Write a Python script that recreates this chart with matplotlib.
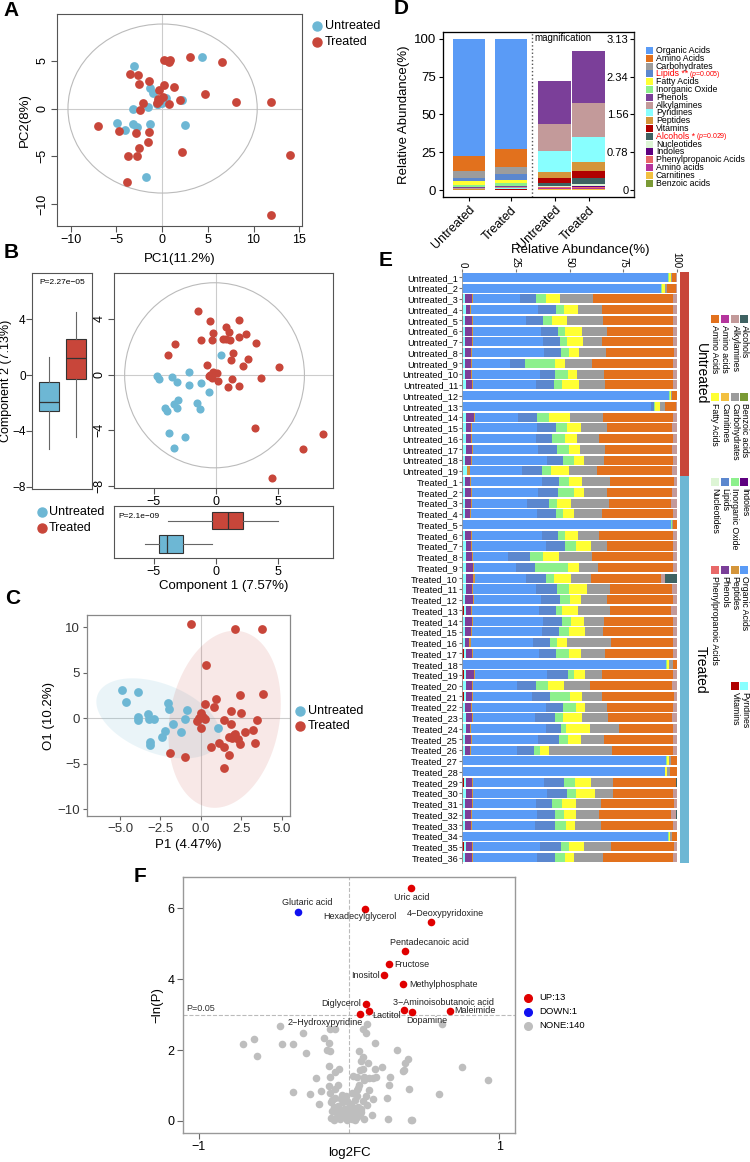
import numpy as np
import matplotlib
matplotlib.use('Agg')
import matplotlib.pyplot as plt
from matplotlib.patches import Ellipse, Polygon, Rectangle
from matplotlib.lines import Line2D

plt.rcParams['font.family'] = ['Liberation Sans', 'DejaVu Sans']
plt.rcParams['mathtext.fontset'] = 'custom'
plt.rcParams['mathtext.rm'] = 'Liberation Sans'
plt.rcParams['mathtext.it'] = 'Liberation Sans:italic'

#---------------------------- data ----------------------------
col_un = '#6DB7D4'
col_tr = '#C8463A'

# A: PCA scores
pca_un_x = [-3.1, 4.4, -1.3, -1.0, -1.6, -0.6, 0.4, 0.1, 2.2, 2.5, -3.2, -4.9, -4.1, -3.2, -2.8, -1.35, -1.8, 0.0, -0.4]
pca_un_y = [4.5, 5.4, 2.1, 1.6, 0.2, 0.45, 1.1, 0.8, 0.9, -1.75, -0.1, -1.5, -2.2, -1.6, -1.9, -1.6, -7.15, 0.6, 0.5]
pca_tr_x = [0.2, 0.6, 0.9, 0.7, 3.0, 6.5, -3.5, -2.6, -2.5, -1.4, 0.2, 1.3, -0.3, -2.1, -2.4, -0.3, -0.4, 0.7,
            2.0, 4.7, 8.1, 11.9, -7.0, -4.7, -2.9, -1.4, -1.5, -2.5, -3.7, -2.8, 2.2, 14.0, -3.8, 11.9, 0.1, -0.6]
pca_tr_y = [5.1, 5.0, 5.1, 4.9, 5.4, 4.9, 3.6, 3.5, 2.6, 2.9, 2.5, 2.3, 1.9, 0.6, -0.2, 0.8, 1.0, 0.5,
            0.9, 1.5, 0.7, 0.7, -1.8, -2.4, -2.6, -2.5, -3.5, -4.1, -5.0, -5.0, -4.6, -4.9, -7.7, -11.2, 1.2, 0.6]

# B: PLS-DA scores
pls_un_x = [-4.76, -4.55, -3.53, -3.13, -2.14, -2.19, -1.2, -0.53, 0.4, -3.02, -3.4, -4.14, -3.96, -3.16, -1.55, -1.28, -3.8, -2.49, -3.37]
pls_un_y = [-0.07, -0.29, -0.19, -0.5, 0.17, -0.77, -0.62, -1.22, 1.39, -1.82, -2.09, -2.37, -2.64, -2.4, -2.01, -2.47, -4.22, -4.46, -5.25]
pls_tr_x = [-1.44, -0.48, 1.82, 0.8, 1.02, -0.24, 2.38, -3.32, -1.18, -0.32, 0.53, 0.8, 1.12, 1.84, 3.24, -3.9, 1.36, 1.2,
            2.59, -0.75, 2.17, 5.08, -0.48, -0.27, 0.05, -0.53, -0.32, 0.16, 1.31, 3.61, 0.94, 1.87, 3.13, 6.98, 8.61, 4.49]
pls_tr_y = [4.56, 3.84, 3.93, 3.43, 3.05, 3.0, 2.9, 2.23, 2.52, 2.52, 2.57, 2.59, 2.52, 2.71, 2.25, 1.39, 1.58, 1.03,
            1.13, 0.7, 0.6, 0.58, 0.0, 0.17, 0.12, -0.12, -0.22, -0.48, -0.29, -0.24, -0.91, -0.82, -3.84, -5.35, -4.29, -7.43]
# box summaries: whisker low, q1, median, q3, whisker high
comp2_un = [-5.3, -2.55, -1.95, -0.5, 1.27]
comp2_tr = [-4.4, -0.25, 1.2, 2.6, 4.5]
comp1_un = [-5.7, -4.6, -3.95, -2.65, -0.36]
comp1_tr = [-3.9, -0.3, 1.0, 2.2, 5.0]

# C: OPLS-DA scores
opls_un_x = [-4.89, -3.88, -4.64, -2.04, -1.98, -0.87, -3.92, -3.92, -3.28, -3.22, -2.89, -1.01, -1.75, -1.26, -2.25, -2.39, -3.15, -3.15, 1.09]
opls_un_y = [3.11, 2.93, 1.83, 1.72, 1.06, 0.92, 0.11, -0.18, 0.44, -0.04, -0.07, -0.07, -0.62, -1.5, -1.39, -2.01, -2.6, -2.93, -1.03]
opls_tr_x = [-0.6, 2.12, 3.79, 0.29, 2.45, 3.86, 0.95, 0.27, 0.82, 1.88, 2.47, 0.0, -0.12, 0.12, -0.25, 0.23, -0.02, 1.46,
             1.84, 3.48, 2.72, 3.2, 2.12, 1.73, 1.94, 2.27, 2.43, 1.15, 1.44, 0.6, 3.34, 1.73, 1.46, -1.88, -1.01, 2.08]
opls_tr_y = [10.33, 9.82, 9.82, 5.82, 2.56, 2.67, 2.09, 1.54, 1.21, 0.84, 0.55, 0.55, 0.0, 0.11, -0.29, -0.11, -1.03, -0.18,
             -0.66, -0.18, -1.54, -1.32, -1.72, -2.09, -2.12, -2.31, -2.86, -2.67, -3.11, -3.15, -2.71, -4.07, -5.42, -3.81, -4.25, -1.83]
# confidence ellipses: centre and covariance-like shape
ell_un_center = [-2.63, 0.0]
ell_un_shape = [[14.75, -7.03], [-7.03, 19.36]]
ell_tr_center = [1.47, -0.1]
ell_tr_shape = [[12.1, 6.0], [6.0, 94.7]]

# D: mean class composition (%)
d_classes = ['Organic Acids', 'Amino Acids', 'Carbohydrates', 'Lipids', 'Fatty Acids', 'Inorganic Oxide', 'Phenols',
             'Alkylamines', 'Pyridines', 'Peptides', 'Vitamins', 'Alcohols', 'Nucleotides', 'Indoles',
             'Phenylpropanoic Acids', 'Amino acids', 'Carnitines', 'Benzoic acids']
d_untreated = [77.44, 10.2, 4.2, 2.4, 2.5, 1.0, 0.90, 0.56, 0.42, 0.138, 0.106, 0.047, 0.02, 0.015, 0.01, 0.03, 0.01, 0.005]
d_treated = [73.02, 11.7, 4.9, 3.4, 2.5, 1.6, 1.08, 0.69, 0.53, 0.175, 0.15, 0.12, 0.047, 0.02, 0.015, 0.03, 0.015, 0.005]
mag_top = 3.13
mag_ticks = ['0', '0.78', '1.56', '2.34', '3.13']

class_colors = {
    'Organic Acids': '#5A9BF6', 'Amino Acids': '#E2711D', 'Carbohydrates': '#9C9C9C', 'Lipids': '#5B87CE',
    'Fatty Acids': '#FFFF33', 'Inorganic Oxide': '#8CF08C', 'Phenols': '#7B3F99', 'Alkylamines': '#C39A9A',
    'Pyridines': '#88FFFF', 'Peptides': '#D4953A', 'Vitamins': '#B00000', 'Alcohols': '#3E6262',
    'Nucleotides': '#DDF5D5', 'Indoles': '#5E0080', 'Phenylpropanoic Acids': '#E86868', 'Amino acids': '#B5359D',
    'Carnitines': '#F2C040', 'Benzoic acids': '#7A9A35'}

# E: per-sample composition (%), Untreated_1..19 then Treated_1..36
samples = ['Untreated_%d' % i for i in range(1, 20)] + ['Treated_%d' % i for i in range(1, 37)]
e_vitamins = [0, 0, 0.4, 0.4, 0.4, 0.4, 0.4, 0.4, 0.4, 0.4, 0.4, 0, 0, 0.4, 0.4, 0.4, 0.4, 0.4, 0.5,
              0.4, 0.4, 0.4, 0.4, 0, 0.4, 0.4, 0.4, 0.5, 0.5, 0.4, 0.4, 0.8, 0.4, 0.4, 0.3, 0.6, 0,
              0.8, 0.4, 0.7, 0.4, 0.4, 0.4, 0.4, 0.4, 0, 0, 0.8, 0.4, 0.4, 0.4, 0.4, 0, 0.8, 0.4]
e_pyridines = [0, 0, 0.8, 1.2, 1.0, 0.8, 1.0, 0.8, 0.8, 1.0, 1.2, 0, 0.3, 1.2, 1.2, 1.2, 1.2, 0.8, 1.5,
               0.8, 0.8, 1.0, 0.8, 0, 0.8, 1.2, 1.2, 1.1, 1.1, 1.2, 0.8, 1.1, 0.8, 0.8, 0.8, 1.0, 0,
               1.1, 1.2, 1.0, 0.8, 1.2, 1.2, 1.0, 0.8, 0, 0, 1.1, 1.2, 0.8, 1.0, 0.8, 0, 1.1, 0.8]
e_phenols = [0, 0, 3.1, 2.0, 3.0, 3.1, 3.1, 2.8, 3.0, 2.6, 3.0, 0, 0, 3.7, 2.5, 2.6, 2.8, 2.8, 0.3,
             2.5, 2.8, 2.5, 2.3, 0, 2.8, 2.5, 2.8, 3.4, 3.6, 2.8, 3.6, 2.0, 3.1, 3.0, 2.2, 3.0, 0,
             3.4, 3.0, 3.0, 2.8, 2.8, 1.9, 2.5, 2.3, 0, 0, 2.6, 2.8, 3.3, 2.8, 2.8, 0, 2.6, 3.1]
e_peptides = [0, 0, 0.6, 0.5, 0.5, 0.6, 0.5, 0.5, 0.5, 0.5, 0.5, 0, 0, 0.6, 0.3, 0.3, 0.5, 0.3, 1.2,
              0.5, 0.5, 0.5, 0.5, 0, 0.3, 0.6, 0.8, 0.6, 0.8, 0.8, 0.5, 0.5, 0.5, 0.5, 0.6, 0.6, 0,
              0.8, 0.6, 0.5, 0.3, 0.5, 0.5, 0.5, 0.5, 0, 0, 0.6, 0.6, 0.5, 0.5, 0.3, 0, 0.6, 0.6]
e_organic = [96.1, 92.7, 22.2, 31.4, 24.7, 32.0, 32.5, 33.7, 17.4, 32.0, 29.2, 96.4, 87.8, 19.9, 30.3, 29.9, 30.6, 35.0, 24.4,
             32.8, 30.6, 26.0, 30.9, 97.4, 33.0, 34.2, 16.3, 19.3, 23.6, 29.1, 31.6, 31.3, 33.0, 32.3, 29.2, 30.8, 95.0,
             33.3, 20.2, 27.2, 34.5, 29.1, 35.0, 31.1, 21.5, 95.3, 94.7, 33.3, 34.4, 29.2, 30.2, 29.5, 95.8, 31.3, 30.0]
e_lipids = [0, 0, 7.5, 8.1, 8.1, 7.8, 7.9, 7.9, 7.3, 7.0, 8.6, 0, 1.4, 9.3, 8.9, 7.3, 8.9, 7.8, 9.3,
            7.9, 9.6, 10.3, 8.7, 0, 7.2, 8.9, 10.0, 9.2, 9.6, 10.0, 8.7, 7.9, 8.7, 8.1, 7.9, 7.9, 0,
            9.8, 9.0, 8.7, 8.1, 9.3, 7.0, 9.5, 8.1, 0, 0, 9.0, 9.3, 7.8, 8.6, 9.3, 0, 9.5, 8.4]
e_inorganic = [0.5, 0.3, 4.4, 4.0, 4.0, 3.3, 3.4, 3.4, 13.7, 5.8, 3.7, 0.5, 0.5, 5.3, 5.3, 6.2, 5.3, 4.8, 4.4,
               4.8, 7.3, 3.4, 3.6, 0.5, 3.6, 5.3, 6.2, 15.2, 3.7, 5.6, 4.5, 2.8, 4.2, 4.5, 3.4, 5.8, 0.4,
               2.8, 5.6, 9.0, 5.9, 3.6, 2.2, 4.2, 2.8, 0.2, 0.2, 5.4, 4.2, 4.7, 3.9, 5.1, 0.4, 4.0, 4.5]
e_fatty = [0.8, 1.4, 6.5, 6.5, 7.2, 7.8, 7.5, 5.1, 5.0, 4.4, 7.6, 0.6, 2.0, 9.8, 6.5, 5.6, 5.0, 4.7, 8.1,
           6.1, 4.5, 6.7, 5.0, 0.2, 5.9, 6.7, 7.3, 5.1, 7.9, 8.2, 5.1, 7.5, 5.9, 7.6, 4.7, 5.8, 0.8,
           5.3, 7.3, 5.8, 4.5, 8.9, 11.2, 6.2, 4.0, 0.8, 0.6, 7.5, 9.0, 6.2, 5.8, 4.2, 0.7, 7.0, 4.4]
e_carbs = [0.3, 1.2, 15.6, 11.2, 16.6, 11.7, 8.9, 12.3, 12.3, 12.6, 12.4, 0.5, 2.6, 15.6, 12.1, 10.1, 11.7, 9.3, 12.9,
           13.2, 10.9, 17.7, 12.8, 0.2, 10.0, 7.6, 15.4, 9.0, 9.2, 10.7, 12.3, 14.9, 9.5, 8.6, 20.2, 11.2, 2.2,
           7.8, 12.4, 9.3, 10.1, 12.1, 13.8, 10.6, 29.4, 1.2, 1.6, 10.3, 8.2, 11.8, 10.9, 12.1, 0.8, 12.4, 13.5]
e_amino = [2.1, 4.0, 37.0, 32.8, 32.8, 30.9, 33.0, 31.6, 38.1, 32.2, 31.7, 2.0, 5.1, 32.7, 30.3, 34.7, 31.4, 32.5, 35.2,
           29.5, 30.3, 28.9, 33.3, 1.9, 34.2, 30.6, 37.8, 34.7, 32.7, 29.0, 30.8, 28.6, 32.3, 32.3, 29.1, 31.6, 1.6,
           33.0, 38.3, 33.4, 30.9, 30.0, 25.0, 32.2, 28.6, 2.6, 3.1, 29.1, 28.3, 33.9, 33.7, 33.6, 2.3, 29.4, 32.2]
e_alkyl = [0.2, 0.3, 1.9, 1.9, 1.7, 1.6, 1.7, 1.4, 1.6, 1.6, 1.6, 0, 0.3, 1.6, 2.2, 1.7, 2.2, 1.6, 2.2,
           1.4, 2.2, 2.7, 1.7, 0, 1.9, 1.9, 1.9, 1.9, 1.9, 2.2, 1.7, 2.6, 1.7, 1.9, 1.7, 1.7, 0,
           1.9, 2.0, 1.4, 1.6, 2.2, 1.9, 1.9, 1.6, 0, 0, 0.3, 1.6, 1.4, 2.2, 1.9, 0, 1.4, 1.9]
e_alcohols = [0] * 19 + [0, 0, 0, 0, 0, 0, 0, 0, 0, 5.4, 0, 0, 0, 0, 0, 0, 0, 0,
                         0, 0, 0, 0, 0, 0, 0, 0, 0, 0, 0.2, 0, 0, 0.3, 0, 0, 0, 0]

# F: volcano
up_names = ['Uric acid', 'Hexadecylglycerol', '4\u2212Deoxypyridoxine', 'Pentadecanoic acid', 'Fructose', 'Inositol',
            'Methylphosphate', 'Diglycerol', 'Lactitol', '2\u2212Hydroxypyridine', '3\u2212Aminoisobutanoic acid',
            'Dopamine', 'Maleimide']
up_x = [0.415, 0.105, 0.544, 0.369, 0.265, 0.234, 0.362, 0.114, 0.131, 0.076, 0.366, 0.417, 0.668]
up_y = [6.56, 5.98, 5.60, 4.80, 4.42, 4.11, 3.86, 3.30, 3.10, 3.02, 3.12, 3.07, 3.11]
down_names = ['Glutaric acid']
down_x = [-0.336]
down_y = [5.90]
none_x = [-0.703, -0.628, -0.610, -0.460, -0.444, -0.375, -0.304, -0.289, -0.375, -0.262, -0.220, -0.198, -0.183,
          -0.165, -0.132, -0.143, -0.127, -0.123, -0.094, -0.132, -0.094, -0.065, -0.125, -0.136, -0.075, -0.127,
          -0.119, -0.090, -0.045, -0.041, -0.101, -0.056, -0.023, 0.0, 0.023, -0.012, 0.043, -0.034, 0.010, 0.032,
          0.054, 0.068, 0.068, 0.054, 0.027, 0.092, 0.101, 0.083, 0.125, 0.076, 0.094, 0.121, 0.092, 0.114, 0.170,
          0.098, 0.131, 0.160, 0.172, 0.178, 0.220, 0.271, 0.269, 0.110, 0.160, 0.054, 0.150, 0.254, 0.256, 0.411,
          0.322, 0.389, 0.369, 0.360, 0.396, 0.061, 0.079, -0.079, -0.116, 0.619, 0.754, 0.925, 0.597, 0.364, 0.416,
          -0.06, -0.02, 0.02, 0.05, -0.08, -0.04, 0.00, 0.03, -0.03, 0.06, -0.07, 0.01, -0.01, 0.04, -0.05, 0.08,
          -0.10, 0.10, -0.12, 0.12, -0.02, 0.02, -0.09, 0.06, 0.13, 0.01, -0.05, 0.07, -0.11, 0.09]
none_y = [2.16, 2.30, 1.84, 2.69, 2.17, 2.16, 2.47, 1.93, 0.81, 0.75, 1.20, 0.47, 0.85,
          2.33, 2.19, 2.00, 1.98, 2.60, 2.60, 1.56, 1.37, 1.46, 1.25, 0.99, 1.02, 0.78,
          0.53, 0.65, 0.73, 0.54, 0.03, 0.12, 0.28, 0.39, 0.22, 0.03, 0.03, 0.17, 0.15, 0.36,
          0.69, 1.02, 1.98, 1.23, 1.27, 1.46, 1.25, 1.69, 1.63, 1.44, 1.80, 2.73, 2.59, 2.47, 2.21,
          1.16, 1.20, 1.20, 1.47, 1.25, 1.52, 1.25, 1.00, 0.71, 0.63, 0.87, 0.17, 0.65, 0.06, 0.03,
          2.01, 1.74, 1.63, 1.42, 0.90, 0.17, 0.26, 0.22, 0.29, 2.73, 1.53, 1.16, 0.75, 1.44, 0.03,
          0.05, 0.08, 0.06, 0.10, 0.12, 0.20, 0.25, 0.30, 0.35, 0.40, 0.42, 0.48, 0.55, 0.58, 0.62, 0.33,
          0.38, 0.05, 0.08, 0.45, 0.70, 0.78, 0.90, 0.92, 0.88, 0.15, 0.28, 0.20, 0.60, 0.55]

#---------------------------- layout helpers ----------------------------
W, H = 750, 1162
fig = plt.figure(figsize=(7.5, 11.62), dpi=100)


def box(l, t, r, b):
    return [l / W, 1 - b / H, (r - l) / W, (b - t) / H]


def fx(x):
    return x / W


def fy(y):
    return 1 - y / H


def r_style(ax, color='#555555'):
    for s in ax.spines.values():
        s.set_color(color)
        s.set_linewidth(0.8)
    ax.tick_params(direction='out', length=4, width=0.8, color=color, labelsize=9, pad=2)


def key_dot(x, y, color, label, fs=9, ms=6.5, gap=8):
    fig.add_artist(Line2D([fx(x)], [fy(y)], marker='o', ms=ms, color=color, lw=0, transform=fig.transFigure))
    fig.text(fx(x + gap), fy(y), label, fontsize=fs, va='center', ha='left')


def panel_label(x, y, s):
    fig.text(fx(x), fy(y), s, fontsize=15, fontweight='bold', ha='center', va='center')


#---------------------------- A ----------------------------
axA = fig.add_axes(box(57, 14, 302, 226))
r_style(axA)
axA.add_patch(Ellipse((0.05, 0), 20.7, 17.7, fill=False, ec='#BBBBBB', lw=0.8))
axA.axhline(0, color='#CCCCCC', lw=0.8, zorder=0)
axA.axvline(0, color='#CCCCCC', lw=0.8, zorder=0)
axA.scatter(pca_un_x, pca_un_y, s=40, color=col_un, lw=0, zorder=3)
axA.scatter(pca_tr_x, pca_tr_y, s=40, color=col_tr, lw=0, zorder=3)
axA.set_xlim(-11.5, 15.3)
axA.set_ylim(-12.3, 9.9)
axA.set_xticks([-10, -5, 0, 5, 10, 15])
axA.set_yticks([-10, -5, 0, 5])
axA.set_yticklabels(['\u221210', '\u22125', '0', '5'], rotation=90, va='center')
axA.set_xlabel('PC1(11.2%)', fontsize=9.5, labelpad=5)
axA.set_ylabel('PC2(8%)', fontsize=9.5, labelpad=4)
key_dot(316.7, 26, col_un, 'Untreated')
key_dot(316.7, 41.7, col_tr, 'Treated')

#---------------------------- B ----------------------------
axB = fig.add_axes(box(114, 273, 333, 488))
r_style(axB)
axB.add_patch(Ellipse((-0.12, -0.05), 14.45, 13.3, fill=False, ec='#BBBBBB', lw=0.8))
axB.axhline(0, color='#CCCCCC', lw=0.8, zorder=0)
axB.axvline(0, color='#CCCCCC', lw=0.8, zorder=0)
axB.scatter(pls_un_x, pls_un_y, s=34, color=col_un, lw=0, zorder=3)
axB.scatter(pls_tr_x, pls_tr_y, s=34, color=col_tr, lw=0, zorder=3)
axB.set_xlim(-8.2, 9.4)
axB.set_ylim(-8.15, 7.3)
axB.set_xticks([-5, 0, 5])
axB.set_yticks([-8, -4, 0, 4])
axB.set_yticklabels(['\u22128', '\u22124', '0', '4'], rotation=90, va='center')


def box_stats(vals):
    return dict(whislo=vals[0], q1=vals[1], med=vals[2], q3=vals[3], whishi=vals[4], fliers=[])


box_kw = dict(patch_artist=True, showcaps=False, showfliers=False,
              boxprops=dict(lw=0.8, edgecolor='#333333'), medianprops=dict(color='#333333', lw=0.9),
              whiskerprops=dict(color='#666666', lw=0.8))

axBl = fig.add_axes(box(32, 273, 92, 489))
r_style(axBl)
bp = axBl.bxp([box_stats(comp2_un), box_stats(comp2_tr)], positions=[1, 2], widths=0.76, **box_kw)
for patch, c in zip(bp['boxes'], [col_un, col_tr]):
    patch.set_facecolor(c)
axBl.set_xlim(0.37, 2.59)
axBl.set_ylim(-8.15, 7.3)
axBl.set_xticks([])
axBl.set_yticks([-8, -4, 0, 4])
axBl.set_yticklabels(['\u22128', '\u22124', '0', '4'])
axBl.tick_params(axis='y', pad=0.5, labelsize=8.5)
axBl.set_ylabel('Component 2 (7.13%)', fontsize=9, va='center')
axBl.yaxis.set_label_coords(-0.43, 0.5)
axBl.text(0.5, 0.955, 'P=2.27e\u221205', transform=axBl.transAxes, fontsize=6, ha='center', va='center')

axBb = fig.add_axes(box(114, 506, 333, 558))
r_style(axBb)
bp = axBb.bxp([box_stats(comp1_un), box_stats(comp1_tr)], positions=[1, 2], widths=0.75,
              orientation='horizontal', **box_kw)
for patch, c in zip(bp['boxes'], [col_un, col_tr]):
    patch.set_facecolor(c)
axBb.set_xlim(-8.2, 9.4)
axBb.set_ylim(0.4, 2.62)
axBb.set_yticks([])
axBb.set_xticks([-5, 0, 5])
axBb.set_xlabel('Component 1 (7.57%)', fontsize=9.5, labelpad=1)
axBb.text(0.02, 0.8, 'P=2.1e\u221209', transform=axBb.transAxes, fontsize=6, ha='left', va='center')
key_dot(42, 512, col_un, 'Untreated', gap=7)
key_dot(42, 528, col_tr, 'Treated', gap=7)

#---------------------------- C ----------------------------
axC = fig.add_axes(box(87, 615, 290, 816))
for s in axC.spines.values():
    s.set_color('#888888')
    s.set_linewidth(0.9)
axC.tick_params(direction='out', length=3, width=0.8, color='#666666', labelsize=9.5, labelcolor='#333333', pad=2)
t = np.linspace(0, 2 * np.pi, 200)
circle = np.vstack([np.cos(t), np.sin(t)])
for cen, shape, c, a in [(ell_un_center, ell_un_shape, col_un, 0.14), (ell_tr_center, ell_tr_shape, col_tr, 0.12)]:
    pts = (np.linalg.cholesky(np.array(shape)) @ circle).T + np.array(cen)
    axC.add_patch(Polygon(pts, closed=True, fc=c, ec='none', alpha=a, zorder=1))
axC.axhline(0, color='#CCCCCC', lw=0.8, zorder=0)
axC.axvline(0, color='#CCCCCC', lw=0.8, zorder=0)
axC.scatter(opls_un_x, opls_un_y, s=40, color=col_un, lw=0, zorder=3)
axC.scatter(opls_tr_x, opls_tr_y, s=40, color=col_tr, lw=0, zorder=3)
axC.set_xlim(-7.05, 5.52)
axC.set_ylim(-10.73, 11.36)
axC.set_xticks([-5, -2.5, 0, 2.5, 5])
axC.set_yticks([-10, -5, 0, 5, 10])
axC.set_xlabel('P1 (4.47%)', fontsize=9.5, labelpad=3)
axC.set_ylabel('O1 (10.2%)', fontsize=9.5, labelpad=2)
key_dot(300, 711, col_un, 'Untreated')
key_dot(300, 726, col_tr, 'Treated')

#---------------------------- D ----------------------------
axD = fig.add_axes(box(443, 32, 634, 197))
for s in axD.spines.values():
    s.set_color('#333333')
    s.set_linewidth(0.9)
full_pos = [1, 2]
mag_pos = [3.05, 3.87]
for pos, vals in zip(full_pos, [d_untreated, d_treated]):
    bottom = 0
    for name, v in zip(d_classes[::-1], vals[::-1]):
        axD.bar(pos, v, 0.76, bottom=bottom, color=class_colors[name], lw=0)
        bottom += v
for pos, vals in zip(mag_pos, [d_untreated, d_treated]):
    bottom = 0
    for name, v in zip(d_classes[6:][::-1], vals[6:][::-1]):
        h = v / mag_top * 100
        axD.bar(pos, h, 0.8, bottom=bottom, color=class_colors[name], lw=0)
        bottom += h
axD.axvline(2.52, ls=':', color='#555555', lw=1)
axD.text(2.57, 100.5, 'magnification', fontsize=7, va='center', ha='left')
axD.set_xlim(0.37, 4.96)
axD.set_ylim(-4.6, 104.6)
axD.set_yticks([0, 25, 50, 75, 100])
axD.set_xticks(full_pos + mag_pos)
axD.set_xticklabels(['Untreated', 'Treated', 'Untreated', 'Treated'], rotation=45, ha='right',
                    rotation_mode='anchor', fontsize=9)
axD.tick_params(axis='both', length=3, labelsize=9.5, pad=2)
axD.tick_params(axis='x', labelsize=9)
axD.set_ylabel('Relative Abundance(%)', fontsize=9.5, labelpad=3)
axD2 = axD.twinx()
axD2.set_ylim(-4.6, 104.6)
axD2.set_yticks([0, 25, 50, 75, 100])
axD2.set_yticklabels(mag_ticks, ha='right')
axD2.tick_params(axis='y', direction='in', length=3, pad=-4, labelsize=8)
axD2.spines['right'].set_color('#333333')

# D legend
for i, name in enumerate(d_classes):
    yy = 50.5 + i * 7.8
    fig.add_artist(Rectangle((fx(646), fy(yy + 3.5)), 7 / W, 7 / H, transform=fig.transFigure,
                             fc=class_colors[name], ec='none'))
    red = name in ('Lipids', 'Alcohols')
    label = name + (' **' if name == 'Lipids' else ' *' if name == 'Alcohols' else '')
    tt = fig.text(fx(656), fy(yy), label, fontsize=6.3, va='center', ha='left', color='#FF0000' if red else 'black')
    if red:
        fig.canvas.draw()
        x1 = tt.get_window_extent().x1
        pv = '($\\it{p}$=0.005)' if name == 'Lipids' else '($\\it{p}$=0.029)'
        fig.text((x1 + 1) / W, fy(yy + 0.5), pv, fontsize=5, va='center', ha='left', color='#FF0000')

#---------------------------- E ----------------------------
axE = fig.add_axes(box(462.3, 272, 676.7, 863))
e_parts = [('Vitamins', e_vitamins), ('Pyridines', e_pyridines), ('Phenols', e_phenols), ('Peptides', e_peptides),
           ('Organic Acids', e_organic), ('Lipids', e_lipids), ('Inorganic Oxide', e_inorganic),
           ('Fatty Acids', e_fatty), ('Carbohydrates', e_carbs), ('Amino Acids', e_amino),
           ('Alkylamines', e_alkyl), ('Alcohols', e_alcohols)]
mat = np.array([v for _, v in e_parts], dtype=float)
mat = mat / mat.sum(axis=0) * 100
rows = np.arange(len(samples))
left = np.zeros(len(samples))
for (name, _), vals in zip(e_parts, mat):
    axE.barh(rows, vals, left=left, height=0.84, color=class_colors[name], lw=0)
    left += vals
axE.set_xlim(0, 100)
axE.set_ylim(len(samples) - 0.5, -0.5)
axE.set_yticks(rows)
axE.set_yticklabels(samples, fontsize=6.6)
axE.xaxis.tick_top()
axE.set_xticks([0, 25, 50, 75, 100])
axE.set_xticklabels(['0', '25', '50', '75', '100'], rotation=-90, fontsize=7)
axE.tick_params(axis='x', length=2, pad=1, color='#777777')
axE.tick_params(axis='y', length=2, pad=1, color='#777777')
for sname in ['top', 'right', 'bottom']:
    axE.spines[sname].set_visible(False)
axE.spines['left'].set_color('#999999')
axE.spines['left'].set_linewidth(0.6)
fig.text(fx(580), fy(250), 'Relative Abundance(%)', fontsize=9.5, ha='center', va='center')

axG = fig.add_axes(box(680, 272, 689.3, 863))
axG.barh(rows, 1, height=1.0, color=[col_tr if s.startswith('Untreated') else col_un for s in samples], lw=0)
axG.set_xlim(0, 1)
axG.set_ylim(len(samples) - 0.5, -0.5)
axG.axis('off')
fig.text(fx(701), fy(374), 'Untreated', rotation=-90, fontsize=10, ha='center', va='center')
fig.text(fx(701), fy(670), 'Treated', rotation=-90, fontsize=10, ha='center', va='center')

# E legend (rotated)
e_legend = [
    (315, [('Alcohols', 744), ('Alkylamines', 734.5), ('Amino acids', 724.5), ('Amino Acids', 714.5)]),
    (393, [('Benzoic acids', 744), ('Carbohydrates', 734.5), ('Carnitines', 724.5), ('Fatty Acids', 714.5)]),
    (478, [('Indoles', 744), ('Inorganic Oxide', 734.5), ('Lipids', 724.5), ('Nucleotides', 714.5)]),
    (566, [('Organic Acids', 744), ('Peptides', 734.5), ('Phenols', 724.5), ('Phenylpropanoic Acids', 714.5)]),
    (682, [('Pyridines', 744), ('Vitamins', 734.5)]),
]
for top, items in e_legend:
    for name, cx in items:
        fig.add_artist(Rectangle((fx(cx - 4), fy(top + 8)), 8 / W, 8 / H, transform=fig.transFigure,
                                 fc=class_colors[name], ec='none'))
        fig.text(fx(cx + 0.5), fy(top + 10), name, rotation=-90, fontsize=6.3, ha='center', va='top')

#---------------------------- F ----------------------------
axF = fig.add_axes(box(183, 877, 515, 1133))
for s in axF.spines.values():
    s.set_color('#999999')
    s.set_linewidth(1)
axF.tick_params(direction='out', length=4, width=0.8, color='#666666', labelsize=9, pad=2)
axF.axhline(-np.log(0.05), ls='--', color='#BBBBBB', lw=0.8, zorder=0)
axF.axvline(0, ls='--', color='#BBBBBB', lw=0.8, zorder=0)
axF.scatter(none_x, none_y, s=30, color='#BEBEBE', lw=0, zorder=2)
axF.scatter(up_x, up_y, s=30, color='#E00000', lw=0, zorder=3)
axF.scatter(down_x, down_y, s=30, color='#1010F0', lw=0, zorder=3)
axF.set_xlim(-1.103, 1.103)
axF.set_ylim(-0.34, 6.88)
axF.set_xticks([-1, 1])
axF.set_yticks([0, 2, 4, 6])
axF.set_xlabel('log2FC', fontsize=9.5, va='center')
axF.xaxis.set_label_coords(0.5, -(1153 - 1133) / 256)
axF.set_ylabel('\u2212ln(P)', fontsize=9.5, labelpad=3)
axF.text(-1.08, -np.log(0.05) + 0.05, 'P=0.05', fontsize=6.5, ha='left', va='bottom', color='#333333')

# label offsets in pixels: dx, dy, ha
label_pos = {
    'Glutaric acid': (9, 9.3, 'center'), 'Hexadecylglycerol': (-5, -7.7, 'center'), 'Uric acid': (0, -9.3, 'center'),
    '4\u2212Deoxypyridoxine': (14.7, 9, 'center'), 'Pentadecanoic acid': (24.5, 8.7, 'center'),
    'Fructose': (5.5, 0, 'left'), 'Inositol': (-4.3, 0, 'right'), 'Methylphosphate': (6, 0, 'left'),
    'Diglycerol': (-5, 0, 'right'), 'Lactitol': (3.4, -4, 'left'), '2\u2212Hydroxypyridine': (2, -8.3, 'right'),
    '3\u2212Aminoisobutanoic acid': (39, 8.3, 'center'), 'Dopamine': (15, -8, 'center'), 'Maleimide': (4.5, 0, 'left'),
}
for names, xs, ys in [(up_names, up_x, up_y), (down_names, down_x, down_y)]:
    for n, x, y in zip(names, xs, ys):
        dx, dy, ha = label_pos[n]
        axF.annotate(n, (x, y), xytext=(dx * 0.72, dy * 0.72), textcoords='offset points',
                     fontsize=6.5, ha=ha, va='center', color='#222222', zorder=4)
key_dot(528, 998, '#E00000', 'UP:13', fs=6.8, ms=5.5, gap=11)
key_dot(528, 1012, '#1010F0', 'DOWN:1', fs=6.8, ms=5.5, gap=11)
key_dot(528, 1026, '#BEBEBE', 'NONE:140', fs=6.8, ms=5.5, gap=11)

#---------------------------- panel letters ----------------------------
panel_label(11, 11, 'A')
panel_label(11, 252, 'B')
panel_label(13, 598, 'C')
panel_label(401, 9, 'D')
panel_label(386, 260, 'E')
panel_label(140, 876, 'F')

fig.savefig('out.png', dpi=100)
